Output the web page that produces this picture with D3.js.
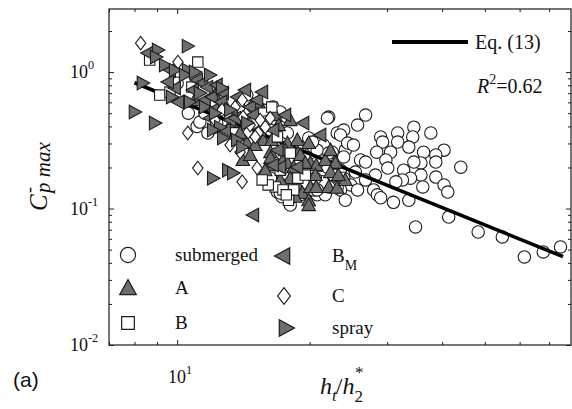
<!DOCTYPE html>
<html><head><meta charset="utf-8">
<script src="https://cdn.jsdelivr.net/npm/d3@7"></script>
<style>body{margin:0;background:#fff}svg{display:block}
.serif{font-family:"Liberation Serif","DejaVu Serif",serif}</style>
</head><body>
<svg id="c" width="572" height="409"></svg>
<script>
// ---- data (x = h_t/h_2*, y = C-p max) ----
const seriesNames = ["submerged", "A", "B", "B_M", "C", "spray"];
const submerged = [
[10.0,0.83],[10.6,0.50],[11.1,0.40],[11.26,0.43],[11.56,0.50],[11.74,0.358],[12.3,0.423],[13.8,0.554],[14.4,0.68],[14.9,0.554],[15.7,0.527],[14.9,0.43],[16.27,0.376],[17.15,0.395],[17.8,0.358],[19.05,0.282],[20.4,0.282],[22.1,0.468],[23.1,0.358],[19.9,0.329],[21.5,0.292],[22.5,0.259],[20.8,0.268],[20.3,0.307],[17.4,0.176],[18.75,0.176],[20.07,0.162],[21.5,0.182],[22.3,0.167],[20.8,0.126],[21.7,0.126],[16.9,0.132],[17.3,0.122],[16.3,0.167],[17.8,0.149],[19.35,0.154],[20.4,0.137],[18.07,0.106],[19.05,0.126],[22.9,0.208],[24.1,0.268],[23.5,0.191],[21.15,0.208],[24.8,0.149],[23.5,0.137],[24.1,0.115],
[16.5,0.554],[17.15,0.51],[21.95,0.46],[26.8,0.484],[25.7,0.409],[23.9,0.376],[23.5,0.346],[24.4,0.302],[25.15,0.292],[29.0,0.335],[29.3,0.307],[31.7,0.358],[34.5,0.395],[34.3,0.335],[37.7,0.358],[31.7,0.307],[33.6,0.282],[30.55,0.259],[28.4,0.259],[26.1,0.227],[26.8,0.219],[23.9,0.239],[22.1,0.255],[29.8,0.227],[30.1,0.198],[36.3,0.259],[40.4,0.268],[38.7,0.247],[38.7,0.219],[35.8,0.216],[34.5,0.219],[32.7,0.191],[44.1,0.201],[35.8,0.176],[33.9,0.167],[32.5,0.162],[31.4,0.157],[38.7,0.170],[40.4,0.149],[41.2,0.132],[36.15,0.144],[28.2,0.176],[26.8,0.162],[25.4,0.185],[23.9,0.167],[22.65,0.176],[25.7,0.137],[27.95,0.137],[28.5,0.126],[29.0,0.120],[31.0,0.111],[33.6,0.115],[21.95,0.201],[20.8,0.216],[23.1,0.142],[22.1,0.144],[21.4,0.157],[20.6,0.167],[17.8,0.142],[17.15,0.130],[18.3,0.122],[20.8,0.137],
[41.4,0.0867],[34.8,0.0733],[48.3,0.0673],[54.8,0.0619],[61.5,0.0442],[67.9,0.0481],[74.3,0.0523]
];
const seriesA = [
[15.3,0.60],[16.7,0.484],[17.8,0.302],[18.75,0.318],[19.9,0.302],[18.07,0.445],[14.4,0.302],[15.7,0.318],[16.4,0.318],[16.3,0.259],[18.8,0.255],[17.4,0.227],[14.1,0.227],[16.4,0.208],[17.8,0.216],[20.07,0.216],[20.7,0.208],[18.75,0.149],[19.25,0.130],[19.9,0.115],[19.9,0.106],[20.07,0.144],[20.7,0.144],[22.1,0.144],[23.1,0.142],[21.7,0.227],[22.9,0.216],[17.0,0.409],[19.05,0.247],[19.55,0.216],[18.4,0.201],[18.55,0.122],[16.3,0.235],[13.9,0.358],[13.3,0.430],[15.04,0.292],[17.6,0.268],[20.6,0.176],[22.3,0.185],[18.07,0.167],[14.65,0.247],[15.85,0.191],[17.15,0.162],[24.1,0.162],[23.25,0.176],[12.84,0.573],[12.19,0.679],[10.97,0.624],[22.3,0.268]
];
const seriesB = [
[8.66,1.224],[11.14,1.184],[9.13,0.679],[9.63,0.714],[10.8,0.776],[16.4,0.554],[16.9,0.335],[18.07,0.255],[16.7,0.144],[16.1,0.149],[17.9,0.115],[18.4,0.137],[18.8,0.167],[17.4,0.137],[17.7,0.126],[15.6,0.162],[17.15,0.191],[19.55,0.176]
];
const seriesBM = [
[8.57,1.38],[9.63,1.034],[9.88,0.764],[11.09,0.874],[11.4,0.831],[11.7,0.776],[10.86,0.738],[11.56,0.624],[12.0,0.657],[12.3,0.803],[12.7,0.702],[12.06,0.527],[12.6,0.603],[11.87,0.46],[13.19,0.445],[12.84,0.376],[13.7,0.657],[14.65,0.554],[15.2,0.624],[13.54,0.46],[14.88,0.484],[16.53,0.376],[19.35,0.423],[16.9,0.268],[17.15,0.201],[18.75,0.201],[16.5,0.208],[14.88,0.0897],[10.05,0.603],[9.53,0.845],[14.27,0.738],[15.6,0.714],[13.33,0.527],[17.6,0.484],[21.15,0.346],[15.44,0.376]
];
const seriesC = [
[8.26,1.63],[10.04,1.184],[10.57,0.358],[14.05,0.624],[14.12,0.468],[15.44,0.445],[15.85,0.395],[14.5,0.364],[15.28,0.358],[13.9,0.259],[15.04,0.335],[11.14,0.198],[14.05,0.157],[15.2,0.198],[13.19,0.292],[12.64,0.527],[13.54,0.554],[16.27,0.46],[14.65,0.409],[12.19,0.445]
];
const spray = [
[9.04,1.45],[8.95,1.29],[9.38,1.125],[9.88,1.034],[10.57,1.55],[10.57,1.034],[9.73,0.657],[8.35,0.831],[8.01,0.51],[8.9,0.423],[10.69,0.603],[11.26,0.702],[11.56,0.554],[12.64,0.764],[13.19,0.527],[12.51,0.395],[14.42,0.423],[13.68,0.318],[14.05,0.282],[12.06,0.376],[12.71,0.329],[12.06,0.167],[13.05,0.191],[13.4,0.182],[10.41,0.951],[10.97,1.0],[11.87,0.951],[12.19,0.50]
];
const fitLine = [[8.0,0.835],[75.3,0.0444]];
const xMajorTicks = [10];
const xMinorTicks = [7,8,9,20,30,40,50,60,70];
const yMajorTicks = [0.01,0.1,1];
const yMinorTicks = [0.02,0.03,0.04,0.05,0.06,0.07,0.08,0.09,0.2,0.3,0.4,0.5,0.6,0.7,0.8,0.9,2];
const xTickLabels = [["10","1"]];
const yTickLabels = [["10","-2"],["10","-1"],["10","0"]];

// ---- drawing ----
const svg = d3.select("#c");
const L=109, R=571, T=9, B=345;
const x = d3.scaleLog().domain([7,78.5]).range([L,R]);
const y = d3.scaleLog().domain([0.01,2.9]).range([B,T]);
const GRAY = "#6d6d6d", DARK = "#1c1c1c";

const shapes = {
  circle: s => { const r=6.2*s; return `M${r},0A${r},${r} 0 1,1 ${-r},0A${r},${r} 0 1,1 ${r},0Z`; },
  up: s => `M0,${-7*s}L${6.8*s},${5.5*s}L${-6.8*s},${5.5*s}Z`,
  left: s => `M${-7*s},0L${5.5*s},${-6.8*s}L${5.5*s},${6.8*s}Z`,
  right: s => `M${7*s},0L${-5.5*s},${-6.8*s}L${-5.5*s},${6.8*s}Z`,
  square: s => { const h=5.2*s; return `M${-h},${-h}H${h}V${h}H${-h}Z`; },
  diamond: s => `M0,${-6.8*s}L${5.2*s},0L0,${6.8*s}L${-5.2*s},0Z`
};
const seriesDefs = [
  {name:"submerged", data:submerged, shape:"circle", fill:"#fff"},
  {name:"A", data:seriesA, shape:"up", fill:GRAY},
  {name:"B", data:seriesB, shape:"square", fill:"#fff"},
  {name:"B_M", data:seriesBM, shape:"left", fill:GRAY},
  {name:"C", data:seriesC, shape:"diamond", fill:"#fff"},
  {name:"spray", data:spray, shape:"right", fill:GRAY}
];

const plot = svg.append("g");
const line = d3.line().x(d=>x(d[0])).y(d=>y(d[1]));
function drawSeries(def){
  plot.append("g").selectAll("path").data(def.data).join("path")
    .attr("transform", d=>`translate(${x(d[0])},${y(d[1])})`)
    .attr("d", shapes[def.shape](1))
    .attr("fill", def.fill).attr("stroke", DARK).attr("stroke-width",1.1);
}
drawSeries(seriesDefs[0]);
plot.append("path").datum(fitLine).attr("d", line)
  .attr("fill","none").attr("stroke","#000").attr("stroke-width",3.6);
seriesDefs.slice(1).forEach(drawSeries);

// frame
svg.append("rect").attr("x",L).attr("y",T).attr("width",R-L).attr("height",B-T)
  .attr("fill","none").attr("stroke",DARK).attr("stroke-width",1.2);

function tickAxis(axisFn, scale, vals, size, transform){
  const g = svg.append("g").attr("transform",transform)
    .call(axisFn(scale).tickValues(vals).tickSize(-size).tickFormat(""));
  g.select(".domain").remove();
  g.selectAll(".tick line").attr("stroke",DARK).attr("stroke-width",1);
}
tickAxis(d3.axisBottom, x, xMinorTicks, 3, `translate(0,${B})`);
tickAxis(d3.axisBottom, x, xMajorTicks, 5, `translate(0,${B})`);
tickAxis(d3.axisTop, x, xMinorTicks, 3, `translate(0,${T})`);
tickAxis(d3.axisTop, x, xMajorTicks, 5, `translate(0,${T})`);
tickAxis(d3.axisLeft, y, yMinorTicks, 3, `translate(${L},0)`);
tickAxis(d3.axisLeft, y, yMajorTicks, 5, `translate(${L},0)`);
tickAxis(d3.axisRight, y, yMinorTicks, 3, `translate(${R},0)`);
tickAxis(d3.axisRight, y, yMajorTicks, 5, `translate(${R},0)`);

function supText(px, py, base, exp, anchor, size){
  const t = svg.append("text").attr("class","serif").attr("x",px).attr("y",py).attr("text-anchor",anchor)
    .attr("font-size",size).attr("fill","#111");
  t.append("tspan").text(base);
  t.append("tspan").attr("dy",-9).attr("font-size",size*0.68).text(exp);
  return t;
}
yMajorTicks.forEach((v,i)=> supText(70, y(v)+6, yTickLabels[i][0], yTickLabels[i][1], "start", 18));
xMajorTicks.forEach((v,i)=> supText(x(v)+3, 383, xTickLabels[i][0], xTickLabels[i][1], "middle", 18));

// axis titles
const xl = svg.append("text").attr("class","serif").attr("x",320).attr("y",394)
  .attr("font-size",24).attr("fill","#111");
xl.append("tspan").attr("font-style","italic").text("h");
xl.append("tspan").attr("font-style","italic").attr("font-size",17).attr("dy",7).text("t");
xl.append("tspan").attr("dy",-7).attr("dx",-1).text("/");
xl.append("tspan").attr("font-style","italic").text("h");
xl.append("tspan").attr("font-size",17).attr("dy",8).text("2");
xl.append("tspan").attr("font-size",17).attr("dy",-24).attr("dx",-8).text("*");

const yl = svg.append("g").attr("class","serif").attr("transform","translate(47,211) rotate(-90)")
  .attr("fill","#111");
yl.append("text").attr("x",0).attr("y",0).attr("font-size",25).attr("font-style","italic").text("C");
yl.append("text").attr("x",18).attr("y",-12).attr("font-size",18).text("-");
yl.append("text").attr("x",18).attr("y",3).attr("font-size",21).attr("font-style","italic").text("p max");

// legend for fit line
svg.append("line").attr("x1",392).attr("x2",468).attr("y1",42).attr("y2",42)
  .attr("stroke","#000").attr("stroke-width",3.8);
svg.append("text").attr("class","serif").attr("x",475).attr("y",49).attr("font-size",20)
  .attr("fill","#111").text("Eq. (13)");
const r2 = svg.append("text").attr("class","serif").attr("x",477).attr("y",93).attr("font-size",20).attr("fill","#111");
r2.append("tspan").attr("font-style","italic").text("R");
r2.append("tspan").attr("font-size",14).attr("dy",-9).text("2");
r2.append("tspan").attr("dy",9).text("=0.62");

// marker legend
const legendPos = [
  {mx:128, my:255, tx:175},
  {mx:128, my:288, tx:175},
  {mx:128, my:323, tx:175},
  {mx:283, my:256, tx:332},
  {mx:284, my:296, tx:332},
  {mx:286, my:328, tx:332}
];
seriesDefs.forEach((def,i)=>{
  const p = legendPos[i];
  svg.append("path").attr("transform",`translate(${p.mx},${p.my})`)
    .attr("d", shapes[def.shape](1.22)).attr("fill",def.fill).attr("stroke",DARK).attr("stroke-width",1.2);
  const t = svg.append("text").attr("class","serif").attr("x",p.tx).attr("y",p.my+6)
    .attr("font-size",19).attr("fill","#111");
  if (def.name === "B_M") {
    t.append("tspan").text("B");
    t.append("tspan").attr("font-size",14).attr("dy",8).text("M");
  } else t.text(def.name);
});

svg.append("text").attr("x",13).attr("y",387).attr("font-family","'Liberation Sans',Arial,sans-serif")
  .attr("font-size",21).attr("fill","#111").text("(a)");
</script>
</body></html>
